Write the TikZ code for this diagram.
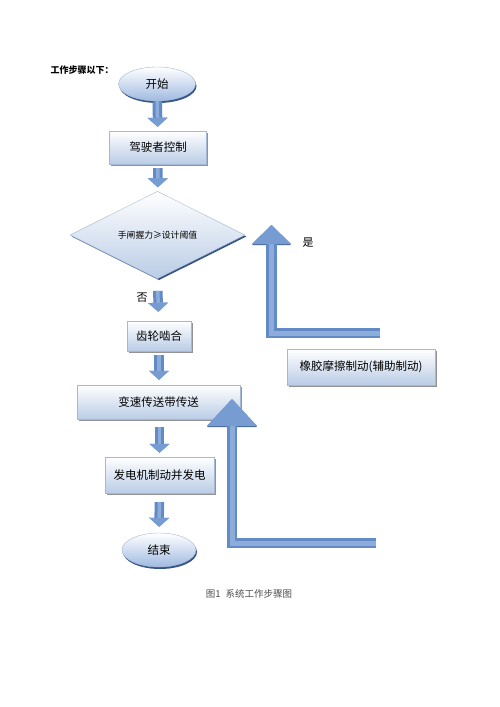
\documentclass[tikz,border=0pt]{standalone}
\usepackage{fontspec}
\newfontfamily\cjk{Noto Sans CJK SC}
\usetikzlibrary{shapes.geometric, arrows.meta, shadows}

\definecolor{boxline}{RGB}{165,185,212}
\definecolor{boxblue}{RGB}{186,204,230}
\definecolor{ellblue}{RGB}{160,186,225}
\definecolor{ellshadow}{RGB}{55,85,135}
\definecolor{arrowblue}{RGB}{98,138,198}
\definecolor{arrowhead}{RGB}{118,156,210}
\definecolor{arrowlight}{RGB}{140,172,218}
\definecolor{arrowdark}{RGB}{70,100,150}

\begin{document}
\begin{tikzpicture}[
    x=1pt, y=-1pt,
    box/.style={rectangle, draw=boxline, top color=white, bottom color=boxblue, inner sep=2pt,
        font=\cjk\fontsize{11.5}{13}\selectfont,
        drop shadow={fill=black!60, opacity=0.7, shadow xshift=1.5pt, shadow yshift=-1.5pt}},
    terminal/.style={ellipse, draw=boxline, top color=white, bottom color=ellblue, inner sep=0pt,
        font=\cjk\fontsize{11.5}{13}\selectfont,
        drop shadow={fill=ellshadow, opacity=1, shadow xshift=1pt, shadow yshift=-2pt}},
    decision/.style={diamond, draw=boxline, top color=white, bottom color=boxblue, inner sep=0pt,
        font=\cjk\fontsize{8.8}{10}\selectfont,
        drop shadow={fill=ellshadow, opacity=1, shadow xshift=1.5pt, shadow yshift=-1.5pt}},
    label/.style={font=\cjk\fontsize{11}{13}\selectfont},
    flowarrow/.style={draw=arrowblue, line width=9.5pt, -{Triangle[width=20pt,length=9pt,line width=0pt]},
        postaction={draw=arrowlight, line width=3.5pt, -{Triangle[width=20pt,length=9pt,line width=0pt,color=arrowhead]}}},
    bigarrow/.style 2 args={draw=arrowblue, line width=10.5pt, line join=miter,
        -{Triangle[width=#1,length=#2,line width=0pt]},
        preaction={draw=arrowdark, transform canvas={yshift=-1.2pt}},
        postaction={draw=arrowlight, line width=5pt, -{Triangle[width=#1,length=#2,line width=0pt,color=arrowhead]}}}
]

% page
\fill[white] (0,0) rectangle (500,707);

% heading
\node[anchor=west, font=\cjk\bfseries\fontsize{9}{11}\selectfont] (heading) at (47,70) {工作步骤以下：};

% main flow
\node[terminal, minimum width=77pt, minimum height=34pt] (start) at (157,84) {开始};
\node[box, minimum width=97pt, minimum height=33pt] (ctrl) at (158,147.5) {驾驶者控制};
\node[decision, minimum width=175pt, minimum height=72pt] (check) at (157.5,235) {手闸握力≥设计阈值};
\node[box, minimum width=64pt, minimum height=30pt] (gear) at (159,336) {齿轮啮合};
\node[box, minimum width=163pt, minimum height=34pt] (trans) at (158.5,402) {变速传送带传送};
\node[box, minimum width=109pt, minimum height=36pt] (gen) at (159.5,475) {发电机制动并发电};
\node[terminal, minimum width=74pt, minimum height=34pt] (finish) at (159,550) {结束};

% side branch
\node[box, minimum width=148pt, minimum height=36pt] (rubber) at (361,367) {橡胶摩擦制动(辅助制动)};

% branch labels
\node[label] (yes) at (308,243) {是};
\node[label] (no) at (142,298) {否};

% short arrows
\draw[flowarrow, shorten >=4pt] (start) -- (ctrl);
\draw[flowarrow, shorten <=4pt, shorten >=4pt] (ctrl) -- (check);
\draw[flowarrow, shorten <=12pt, shorten >=9pt] (check.south) -- (gear);
\draw[flowarrow, shorten <=4pt, shorten >=5pt] (gear) -- (trans.north -| gear.south);
\draw[flowarrow, shorten <=8pt, shorten >=4pt] (trans.south -| gen.north) -- (gen);
\draw[flowarrow, shorten <=9pt, shorten >=6pt] (gen) -- (finish);

% return arrows
\coordinate (yesfoot) at (380,333);
\coordinate (yestip) at (271.5,225);
\draw[bigarrow={39pt}{19pt}] (yesfoot) -| (yestip);

\coordinate (backfoot) at (376,543);
\coordinate (backtip) at (232,399);
\draw[bigarrow={50pt}{27pt}] (backfoot) -| (backtip);

% caption
\node[font=\cjk\fontsize{9.5}{11}\selectfont, text=black!70] (caption) at (249,594) {图1\hspace{0.5em}系统工作步骤图};

\end{tikzpicture}
\end{document}
